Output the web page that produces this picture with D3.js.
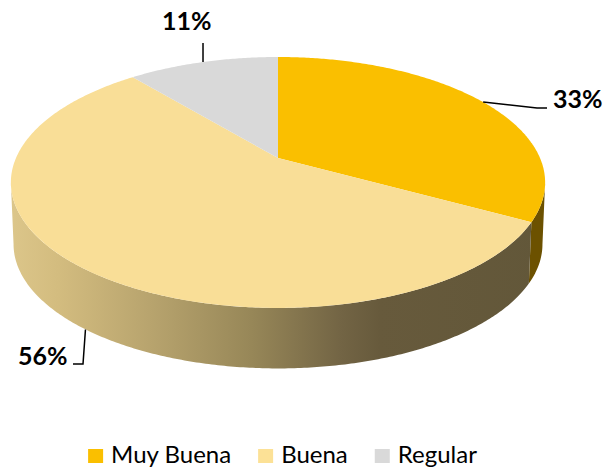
<!DOCTYPE html>
<html><head><meta charset="utf-8">
<script src="https://cdn.jsdelivr.net/npm/d3@7"></script>
<style>html,body{margin:0;padding:0;background:#fff;}svg{display:block;}</style>
</head><body>
<svg id="chart" width="609" height="469"></svg>
<script>
const categories = ["Muy Buena", "Buena", "Regular"];
const values = [33, 56, 11];
const valueLabels = ["33%", "56%", "11%"];

const topColors = ["#FABF00", "#F9DE97", "#D9D9D9"];
const svg = d3.select("#chart");
const W = 609, H = 469;

// perspective ellipse parameters
const cx = 278, cy = 158, A = 262, B = 120.7, k = 0.195, depth = 62;
function proj(phi, dy, s) {
  s = s || 1;
  const u = Math.sin(phi), v = Math.cos(phi), w = 1 + k * v;
  return [cx + A * s * u / w, cy - B * s * v / w + dy];
}

const pie = d3.pie().sort(null).value(d => d).startAngle(0).endAngle(2 * Math.PI);
const arcs = pie(values);

const defs = svg.append("defs");
const grad = defs.append("linearGradient").attr("id", "sideGrad")
  .attr("gradientUnits", "userSpaceOnUse").attr("x1", 10).attr("x2", 546).attr("y1", 0).attr("y2", 0);
[[0, "#dcc68a"], [0.09, "#d3bc7f"], [0.26, "#b8a46e"], [0.45, "#978758"], [0.62, "#726444"], [0.69, "#675a3c"], [1, "#625739"]]
  .forEach(([o, c]) => grad.append("stop").attr("offset", o).attr("stop-color", c));
const sideFills = ["#6c5100", "url(#sideGrad)", "#8a8a8a"];

const line = d3.line();
function edgePts(a0, a1, dy, s) {
  const n = Math.max(2, Math.ceil((a1 - a0) / 0.01));
  const pts = [];
  for (let i = 0; i <= n; i++) pts.push(proj(a0 + (a1 - a0) * i / n, dy, s));
  return pts;
}

// visible side range
const visA = Math.acos(-k), visB = 2 * Math.PI - Math.acos(-k);
const gSide = svg.append("g");
arcs.forEach((a, i) => {
  const s0 = Math.max(a.startAngle, visA), s1 = Math.min(a.endAngle, visB);
  if (s1 <= s0) return;
  const topE = edgePts(s0, s1, 0, 1);
  const botE = edgePts(s0, s1, depth, 0.99).reverse();
  gSide.append("path").attr("d", line(topE.concat(botE)) + "Z").attr("fill", sideFills[i]);
});

const gTop = svg.append("g");
arcs.forEach((a, i) => {
  const pts = [[cx, cy]].concat(edgePts(a.startAngle, a.endAngle, 0, 1));
  gTop.append("path").attr("d", line(pts) + "Z").attr("fill", topColors[i]);
});

// data labels with leader lines
const labelFont = "Lato, 'Open Sans', sans-serif";
const gLab = svg.append("g");
const labelSpecs = [
  { tx: 553, ty: 108, anchor: "start", pts: m => [m, [537, 108], [547, 108]] },
  { tx: 18, ty: 365, anchor: "start", pts: m => [[m[0] + 4, m[1] + depth], [83, 364], [73, 364]] },
  { tx: 162, ty: 30, anchor: "start", pts: m => [m, [m[0], 43]] }
];
arcs.forEach((a, i) => {
  const mid = (a.startAngle + a.endAngle) / 2;
  const m = proj(mid, 0, 1);
  const sp = labelSpecs[i];
  gLab.append("path").attr("d", line(sp.pts(m))).attr("fill", "none").attr("stroke", "#000").attr("stroke-width", 1.5);
  gLab.append("text").attr("x", sp.tx).attr("y", sp.ty).attr("text-anchor", sp.anchor)
    .attr("font-family", labelFont).attr("font-weight", 700).attr("font-size", 25).attr("fill", "#000")
    .text(valueLabels[i]);
});

// legend
const gLeg = svg.append("g");
let x = 0;
const items = [];
categories.forEach((c, i) => {
  const g = gLeg.append("g");
  g.append("rect").attr("x", 0).attr("y", -14).attr("width", 15).attr("height", 14).attr("fill", topColors[i] === "#F9DE97" ? "#FCE196" : topColors[i]);
  const t = g.append("text").attr("x", 23).attr("y", 0).attr("font-family", labelFont).attr("font-size", 24).attr("fill", "#000").text(c);
  const w = 23 + t.node().getComputedTextLength();
  items.push({ g, x, w });
  x += w + 27;
});
const total = x - 27;
const startX = 282.5 - total / 2;
items.forEach(it => it.g.attr("transform", `translate(${startX + it.x},463)`));
</script>
</body></html>
